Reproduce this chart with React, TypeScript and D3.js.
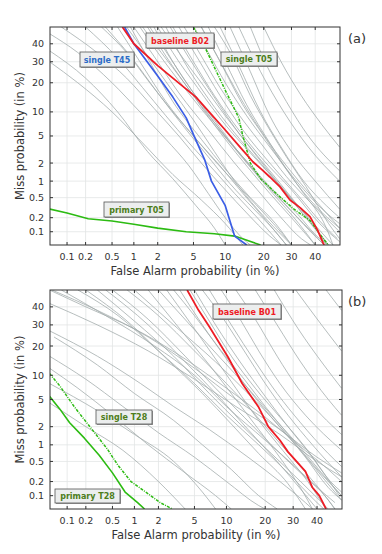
import React from 'react';
import * as d3 from 'd3';

// DET curves, values are [false alarm %, miss %]
type Pt = [number, number];

const FA_TICKS = [0.1, 0.2, 0.5, 1, 2, 5, 10, 20, 30, 40];
const MISS_TICKS = [0.1, 0.2, 0.5, 1, 2, 5, 10, 20, 30, 40];
const FA_LIMITS = [0.051, 51.2];
const MISS_LIMITS = [0.05, 50];

// panel (a)
const baselineB02: Pt[] = [[0.7, 50], [1, 40], [2, 28], [5.3, 14.5], [10, 6], [13.3, 3.5], [16.7, 2.1], [19.5, 1.55], [22, 1.18], [25.6, 0.79], [29.4, 0.45], [33.5, 0.32], [37.7, 0.21], [41, 0.11], [43.5, 0.056], [44, 0.05]];
const singleT45: Pt[] = [[0.75, 50], [1, 40], [2, 23], [3, 14.5], [4.2, 8.5], [5, 5.2], [6.5, 2.2], [7.5, 1], [10, 0.35], [12, 0.08], [15, 0.05]];
const singleT05: Pt[] = [[5, 50], [6.5, 38], [10, 17], [13, 8.5], [14, 5], [15, 3.2], [16, 2], [19, 1.1], [25, 0.55], [31, 0.3], [38, 0.17], [44, 0.065], [46, 0.05]];
const primaryT05: Pt[] = [[0.05, 0.3], [0.1, 0.25], [0.22, 0.19], [0.5, 0.17], [1, 0.145], [2, 0.12], [4.2, 0.1], [8, 0.09], [12, 0.08], [19, 0.05]];

const othersA: Pt[][] = [
  [[7, 50], [10, 30], [15, 12], [22, 4], [30, 1.2], [40, 0.35], [51, 0.12]],
  [[9, 50], [13, 28], [19, 10], [26, 3.5], [35, 1], [45, 0.35], [51, 0.2]],
  [[11, 50], [16, 25], [22, 9], [30, 3], [40, 1], [51, 0.3]],
  [[13, 50], [19, 25], [27, 10], [37, 3.5], [51, 1]],
  [[16, 50], [21, 28], [28, 13], [37, 5], [51, 1.5]],
  [[20, 50], [26, 30], [34, 15], [43, 7], [51, 3.5]],
  [[8, 50], [11, 35], [16, 15], [22, 6], [28, 2.5], [36, 0.8], [46, 0.15], [51, 0.07]],
  [[6, 50], [9, 30], [14, 12], [20, 5], [27, 1.8], [35, 0.6], [45, 0.12], [48, 0.05]],
  [[1.2, 50], [2, 35], [4, 18], [8, 7], [14, 2.5], [22, 0.8], [32, 0.25], [42, 0.07], [46, 0.05]],
  [[1.5, 50], [2.5, 33], [5, 15], [10, 5], [16, 1.8], [25, 0.5], [35, 0.15], [44, 0.05]],
  [[1, 50], [1.8, 33], [3.5, 16], [7, 6], [12, 2], [18, 0.7], [26, 0.2], [34, 0.07], [38, 0.05]],
  [[2, 50], [3, 35], [5.5, 18], [10, 7], [17, 2.5], [26, 0.8], [37, 0.2], [48, 0.05]],
  [[2.5, 50], [4, 30], [7, 14], [12, 5.5], [19, 2], [28, 0.6], [38, 0.15], [46, 0.05]],
  [[0.9, 50], [1.6, 30], [3, 13], [6, 4.5], [10, 1.6], [16, 0.5], [24, 0.15], [30, 0.05]],
  [[3, 50], [5, 30], [8, 15], [13, 6], [20, 2.2], [30, 0.7], [42, 0.15], [51, 0.06]],
  [[0.6, 50], [1.2, 30], [2.5, 13], [5, 5], [9, 1.8], [14, 0.6], [20, 0.2], [26, 0.07], [28, 0.05]],
  [[1.8, 50], [3, 30], [5, 16], [8, 8], [12, 3.5], [18, 1.3], [27, 0.4], [38, 0.1], [44, 0.05]],
  [[4, 50], [6, 33], [9, 18], [14, 8], [20, 3.5], [28, 1.2], [38, 0.4], [51, 0.1]],
  [[2.2, 50], [3.5, 35], [6, 20], [10, 9], [15, 4], [22, 1.5], [30, 0.5], [40, 0.12], [45, 0.05]],
  [[1.3, 50], [2.2, 35], [4, 20], [6.5, 10], [10, 4.5], [15, 1.8], [22, 0.6], [30, 0.2], [40, 0.05]],
  [[0.8, 50], [1.4, 35], [2.8, 18], [5, 8], [8, 3], [12, 1], [18, 0.3], [25, 0.1], [30, 0.05]],
  [[5, 50], [7, 35], [10, 20], [15, 9], [22, 3.5], [32, 1], [45, 0.25], [51, 0.15]],
  [[3.5, 50], [5.5, 32], [9, 15], [14, 6], [22, 2], [32, 0.6], [45, 0.12], [50, 0.07]],
  [[0.4, 50], [0.9, 33], [2, 16], [4, 6.5], [7, 2.5], [11, 0.9], [17, 0.3], [24, 0.1], [28, 0.05]],
  [[6, 50], [8.5, 33], [12, 18], [17, 8], [24, 3], [33, 1], [45, 0.25], [51, 0.12]],
  [[1.6, 50], [2.8, 32], [5, 16], [9, 6], [15, 2], [23, 0.6], [33, 0.15], [40, 0.05]],
  [[2.8, 50], [4.5, 32], [7.5, 16], [12, 6.5], [18, 2.5], [26, 0.8], [36, 0.2], [45, 0.06]],
  [[0.05, 46], [0.15, 35], [0.5, 20], [1.2, 10], [2.5, 4.5], [4.5, 1.8], [7, 0.6], [10, 0.2], [14, 0.07], [16, 0.05]],
  [[0.05, 36], [0.2, 22], [0.6, 10], [1.5, 3], [3, 1.1], [5.3, 0.35], [8, 0.12], [10, 0.05]],
  [[0.08, 50], [0.3, 35], [0.8, 22], [1.8, 11], [3.5, 5], [6, 2], [10, 0.7], [15, 0.25], [22, 0.08], [26, 0.05]],
  [[0.2, 50], [0.6, 32], [1.3, 18], [2.5, 9], [4.5, 4], [8, 1.5], [12, 0.6], [18, 0.2], [24, 0.07], [26, 0.05]],
  [[0.35, 50], [0.8, 35], [1.6, 20], [3, 10], [5, 5], [8, 2.2], [13, 0.8], [20, 0.25], [28, 0.07], [30, 0.05]],
  [[0.05, 30], [0.15, 20], [0.5, 10], [1.3, 4], [3, 1.3], [6, 0.45], [10, 0.15], [14, 0.05]],
];

// panel (b)
const baselineB01: Pt[] = [[4.2, 50], [5.5, 38], [7, 29], [10.3, 15.7], [13.5, 8], [18, 3.9], [21, 2], [25, 1.2], [28, 0.75], [35, 0.32], [38, 0.15], [41, 0.1], [44, 0.05]];
const singleT28: Pt[] = [[0.05, 10.5], [0.075, 7.5], [0.13, 4], [0.25, 1.8], [0.42, 0.85], [0.6, 0.42], [0.9, 0.2], [1.4, 0.12], [2.1, 0.07], [2.9, 0.05]];
const primaryT28: Pt[] = [[0.05, 5.5], [0.075, 3.7], [0.11, 2.3], [0.19, 1.3], [0.32, 0.65], [0.5, 0.3], [0.75, 0.12], [1.1, 0.07], [1.35, 0.05]];

const othersB: Pt[][] = [
  [[0.05, 42], [0.3, 30], [1.5, 18], [5, 9], [12, 4], [25, 1.5], [40, 0.5], [51, 0.25]],
  [[0.05, 27], [0.3, 16], [1.2, 8], [3, 4], [7, 1.8], [15, 0.6], [25, 0.2], [35, 0.07], [38, 0.05]],
  [[0.05, 16], [0.2, 9], [0.7, 4], [2, 1.6], [5, 0.6], [10, 0.2], [18, 0.06], [20, 0.05]],
  [[0.05, 12], [0.15, 7], [0.5, 3], [1.5, 1], [4, 0.3], [8, 0.1], [11, 0.05]],
  [[0.055, 50], [0.3, 38], [1.5, 24], [5, 12], [12, 5], [25, 1.8], [40, 0.6], [51, 0.3]],
  [[0.08, 50], [0.4, 35], [1.8, 20], [5, 10], [10, 4], [20, 1.2], [32, 0.35], [45, 0.08], [48, 0.05]],
  [[0.15, 50], [0.6, 35], [2, 18], [5, 8], [10, 3], [18, 1], [28, 0.3], [40, 0.07], [43, 0.05]],
  [[0.3, 50], [1, 32], [3, 16], [7, 6], [13, 2.2], [22, 0.7], [33, 0.2], [45, 0.05]],
  [[0.5, 50], [1.5, 33], [4, 16], [8, 7], [14, 2.8], [22, 1], [33, 0.3], [48, 0.07]],
  [[0.06, 24], [0.3, 13], [1, 6], [3, 2.5], [6, 1], [11, 0.35], [18, 0.1], [24, 0.05]],
  [[0.05, 4.5], [0.2, 2], [0.7, 0.8], [2, 0.2], [4, 0.05]],
  [[0.05, 8], [0.3, 3.5], [1, 1.5], [3, 0.5], [6, 0.12], [8, 0.05]],
  [[1, 50], [3, 30], [8, 14], [15, 6], [25, 2], [35, 0.6], [45, 0.15], [51, 0.08]],
  [[2, 50], [4.5, 30], [9, 15], [15, 7], [22, 3], [32, 1], [42, 0.3], [51, 0.1]],
  [[3, 50], [5, 35], [9, 18], [14, 9], [20, 4], [28, 1.5], [38, 0.45], [51, 0.1]],
  [[3.5, 50], [6, 30], [10, 15], [16, 6], [24, 2.2], [34, 0.7], [44, 0.2], [51, 0.08]],
  [[4.5, 50], [7, 32], [11, 16], [17, 7], [25, 2.8], [35, 0.9], [46, 0.2], [51, 0.12]],
  [[5, 50], [8, 30], [13, 14], [20, 5.5], [28, 2], [38, 0.6], [50, 0.1]],
  [[6, 50], [9, 35], [14, 18], [20, 8], [28, 3], [38, 1], [51, 0.25]],
  [[7, 50], [11, 30], [17, 14], [24, 6], [33, 2.3], [45, 0.7], [51, 0.4]],
  [[2.5, 50], [5, 28], [8, 15], [12, 7], [18, 2.5], [26, 0.8], [36, 0.2], [44, 0.05]],
  [[1.5, 50], [3.5, 28], [7, 13], [12, 5], [18, 1.8], [26, 0.5], [34, 0.12], [38, 0.05]],
  [[9, 50], [13, 33], [18, 18], [25, 8], [35, 3], [51, 0.8]],
  [[12, 50], [17, 33], [24, 16], [32, 7], [42, 3], [51, 1.5]],
  [[17, 50], [24, 30], [33, 14], [45, 5], [51, 3]],
  [[23, 50], [32, 28], [43, 13], [51, 7]],
  [[31, 50], [42, 30], [51, 18]],
  [[44, 50], [51, 38]],
  [[0.8, 50], [2, 35], [5, 18], [10, 8], [16, 3.5], [24, 1.2], [34, 0.35], [45, 0.08], [48, 0.05]],
  [[0.05, 50], [0.2, 40], [1, 28], [4, 15], [10, 7], [20, 2.8], [32, 1], [45, 0.35], [51, 0.2]],
  [[0.4, 50], [1.5, 30], [4, 14], [9, 5], [15, 1.8], [24, 0.5], [34, 0.12], [40, 0.05]],
  [[0.2, 50], [0.8, 32], [2.5, 15], [6, 6], [11, 2.2], [18, 0.7], [28, 0.18], [35, 0.05]],
];

const RED = '#ee1c25';
const BLUE = '#3b5ee6';
const GREEN = '#2cbb12';
const OLIVE = '#4d7d1a';

// inverse normal CDF (Acklam), the DET axis warp
function probit(p: number): number {
  const a = [-39.69683028665376, 220.9460984245205, -275.9285104469687, 138.357751867269, -30.66479806614716, 2.506628277459239];
  const b = [-54.47609879822406, 161.5858368580409, -155.6989798598866, 66.80131188771972, -13.28068155288572];
  const c = [-0.007784894002430293, -0.3223964580411365, -2.400758277161838, -2.549732539343734, 4.374664141464968, 2.938163982698783];
  const d = [0.007784695709041462, 0.3224671290700398, 2.445134137142996, 3.754408661907416];
  const pl = 0.02425;
  if (p < pl) {
    const q = Math.sqrt(-2 * Math.log(p));
    return (((((c[0] * q + c[1]) * q + c[2]) * q + c[3]) * q + c[4]) * q + c[5]) / ((((d[0] * q + d[1]) * q + d[2]) * q + d[3]) * q + 1);
  }
  if (p <= 1 - pl) {
    const q = p - 0.5;
    const r = q * q;
    return ((((((a[0] * r + a[1]) * r + a[2]) * r + a[3]) * r + a[4]) * r + a[5]) * q) / (((((b[0] * r + b[1]) * r + b[2]) * r + b[3]) * r + b[4]) * r + 1);
  }
  const q = Math.sqrt(-2 * Math.log(1 - p));
  return -(((((c[0] * q + c[1]) * q + c[2]) * q + c[3]) * q + c[4]) * q + c[5]) / ((((d[0] * q + d[1]) * q + d[2]) * q + d[3]) * q + 1);
}

type Curve = { pts: Pt[]; color: string; width: number; dash?: string };
type Note = { text: string; color: string; x: number; y: number; w: number; h: number };

const FONT = 'DejaVu Sans, sans-serif';

function Panel(props: {
  id: string; tag: string; left: number; right: number; top: number; bottom: number;
  grey: Pt[][]; curves: Curve[]; notes: Note[];
}) {
  const { id, tag, left, right, top, bottom, grey, curves, notes } = props;
  const x = d3.scaleLinear().domain([probit(FA_LIMITS[0] / 100), probit(FA_LIMITS[1] / 100)]).range([left, right]);
  const y = d3.scaleLinear().domain([probit(MISS_LIMITS[0] / 100), probit(MISS_LIMITS[1] / 100)]).range([bottom, top]);
  const fx = (v: number) => x(probit(v / 100));
  const fy = (v: number) => y(probit(v / 100));
  const smooth = d3.line<Pt>().x((p) => fx(p[0])).y((p) => fy(p[1])).curve(d3.curveMonotoneX);
  const straight = d3.line<Pt>().x((p) => fx(p[0])).y((p) => fy(p[1]));
  const midY = (top + bottom) / 2;
  return (
    <g>
      <defs>
        <clipPath id={id}>
          <rect x={left} y={top} width={right - left} height={bottom - top} />
        </clipPath>
      </defs>
      <rect x={left} y={top} width={right - left} height={bottom - top} fill="#fff" />
      {FA_TICKS.map((t) => (
        <line key={'gx' + t} x1={fx(t)} x2={fx(t)} y1={top} y2={bottom} stroke="#e2e4e4" strokeWidth={0.8} />
      ))}
      {MISS_TICKS.map((t) => (
        <line key={'gy' + t} x1={left} x2={right} y1={fy(t)} y2={fy(t)} stroke="#e2e4e4" strokeWidth={0.8} />
      ))}
      <g clipPath={`url(#${id})`}>
        {grey.map((g, i) => (
          <path key={i} d={smooth(g) || ''} fill="none" stroke="#a0a9a9" strokeWidth={0.85} strokeOpacity={0.9} />
        ))}
        {curves.map((c, i) => (
          <path key={'c' + i} d={straight(c.pts) || ''} fill="none" stroke={c.color} strokeWidth={c.width}
            strokeDasharray={c.dash} strokeLinejoin="round" />
        ))}
      </g>
      <rect x={left} y={top} width={right - left} height={bottom - top} fill="none" stroke="#333" strokeWidth={1} />
      {FA_TICKS.map((t) => (
        <g key={'tx' + t}>
          <line x1={fx(t)} x2={fx(t)} y1={bottom} y2={bottom - 3} stroke="#333" />
          <line x1={fx(t)} x2={fx(t)} y1={top} y2={top + 3} stroke="#333" />
          <text x={fx(t)} y={bottom + 15} textAnchor="middle" fontSize={9.5} fill="#333" fontFamily={FONT}>{String(t)}</text>
        </g>
      ))}
      {MISS_TICKS.map((t) => (
        <g key={'ty' + t}>
          <line x1={left} x2={left + 3} y1={fy(t)} y2={fy(t)} stroke="#333" />
          <line x1={right} x2={right - 3} y1={fy(t)} y2={fy(t)} stroke="#333" />
          <text x={left - 6} y={fy(t) + 3.5} textAnchor="end" fontSize={9.5} fill="#333" fontFamily={FONT}>{String(t)}</text>
        </g>
      ))}
      <text x={(left + right) / 2} y={bottom + 30} textAnchor="middle" fontSize={11.5} fill="#333" fontFamily={FONT}>
        False Alarm probability (in %)
      </text>
      <text transform={`translate(24,${midY}) rotate(-90)`} textAnchor="middle" fontSize={11.5} fill="#333" fontFamily={FONT}>
        Miss probability (in %)
      </text>
      <text x={348} y={top + 16} fontSize={13} fill="#333" fontFamily={FONT}>{tag}</text>
      {notes.map((n) => (
        <g key={n.text}>
          <rect x={n.x + 1} y={n.y + 1} width={n.w} height={n.h} fill="#9a9a9a" />
          <rect x={n.x} y={n.y} width={n.w} height={n.h} fill="#eceeee" stroke="#555" strokeWidth={0.8} />
          <text x={n.x + n.w / 2} y={n.y + n.h / 2 + 3} textAnchor="middle" fontSize={8} fontWeight="bold"
            fill={n.color} fontFamily={FONT}>{n.text}</text>
        </g>
      ))}
    </g>
  );
}

export default function App() {
  return (
    <svg width={382} height={554} style={{ position: 'absolute', left: 0, top: 0, background: '#fff' }}>
      <Panel id="clipA" tag="(a)" left={50} right={340} top={27} bottom={245} grey={othersA}
        curves={[
          { pts: primaryT05, color: GREEN, width: 1.6 },
          { pts: singleT05, color: GREEN, width: 1.5, dash: '3,1.2,1,1.2' },
          { pts: singleT45, color: BLUE, width: 1.7 },
          { pts: baselineB02, color: RED, width: 1.8 },
        ]}
        notes={[
          { text: 'baseline B02', color: RED, x: 146, y: 33, w: 68, h: 15 },
          { text: 'single T45', color: '#2d6cc8', x: 80, y: 52, w: 54, h: 15 },
          { text: 'single T05', color: OLIVE, x: 221, y: 52, w: 56, h: 14 },
          { text: 'primary T05', color: OLIVE, x: 104, y: 202, w: 65, h: 15 },
        ]} />
      <Panel id="clipB" tag="(b)" left={50} right={342} top={290} bottom={509} grey={othersB}
        curves={[
          { pts: primaryT28, color: GREEN, width: 1.6 },
          { pts: singleT28, color: GREEN, width: 1.5, dash: '3,1.2,1,1.2' },
          { pts: baselineB01, color: RED, width: 1.8 },
        ]}
        notes={[
          { text: 'baseline B01', color: RED, x: 213, y: 304, w: 68, h: 15 },
          { text: 'single T28', color: OLIVE, x: 96, y: 410, w: 56, h: 14 },
          { text: 'primary T28', color: OLIVE, x: 55, y: 489, w: 65, h: 14 },
        ]} />
    </svg>
  );
}
